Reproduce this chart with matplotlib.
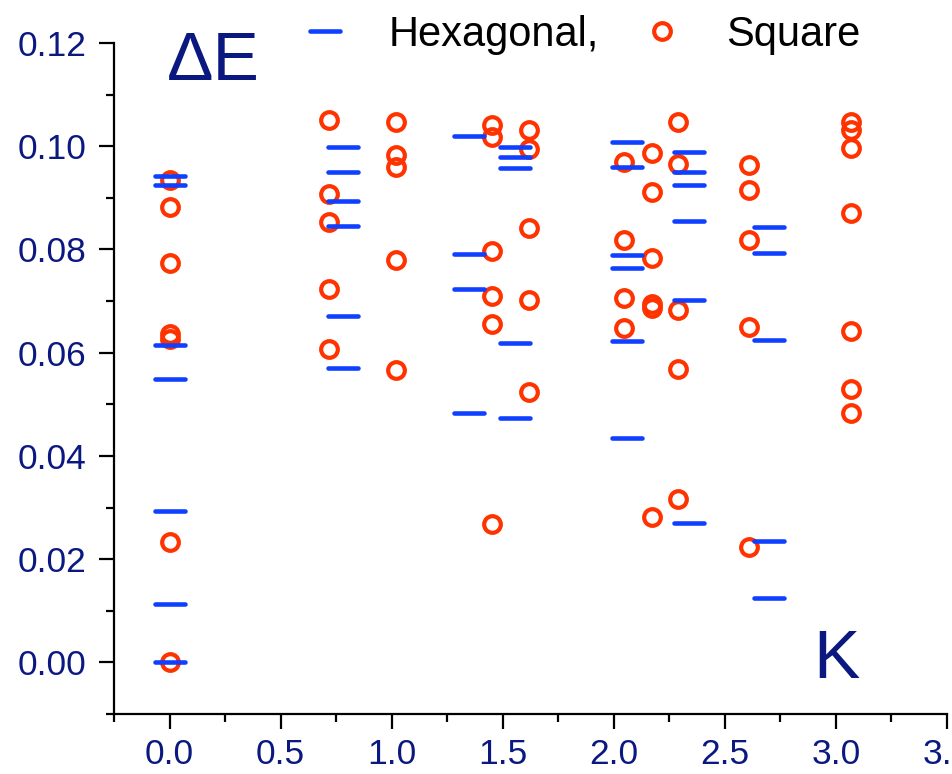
import matplotlib
matplotlib.use("Agg")
import matplotlib.pyplot as plt
from matplotlib.markers import MarkerStyle
from matplotlib.ticker import MultipleLocator, FormatStrFormatter

plt.rcParams['font.family'] = ['Liberation Sans', 'DejaVu Sans']

# Hexagonal levels: K position and energies
hex_k = [0.0, 0.78, 1.35, 1.556, 2.06, 2.337, 2.697]
hex_e = [
    [0.0942, 0.0924, 0.0614, 0.0549, 0.0293, 0.0114, 0.0],
    [0.0999, 0.0950, 0.0893, 0.0845, 0.0671, 0.0570],
    [0.1019, 0.0792, 0.0724, 0.0484],
    [0.0999, 0.0979, 0.0958, 0.0619, 0.0473],
    [0.1008, 0.0960, 0.0789, 0.0765, 0.0622, 0.0435],
    [0.0988, 0.0950, 0.0924, 0.0856, 0.0703, 0.0270],
    [0.0844, 0.0793, 0.0624, 0.0236, 0.0125],
]

# Square levels
sq_k = [0.0, 0.72, 1.02, 1.45, 1.62, 2.047, 2.173, 2.29, 2.61, 3.07]
sq_e = [
    [0.0934, 0.0882, 0.0773, 0.0637, 0.0627, 0.0233, 0.0],
    [0.1050, 0.0908, 0.0853, 0.0724, 0.0608],
    [0.1047, 0.0983, 0.0960, 0.0779, 0.0566],
    [0.1041, 0.1018, 0.0797, 0.0710, 0.0655, 0.0269],
    [0.1032, 0.0994, 0.0842, 0.0702, 0.0524],
    [0.0970, 0.0819, 0.0705, 0.0647],
    [0.0986, 0.0911, 0.0784, 0.0694, 0.0686, 0.0282],
    [0.1047, 0.0966, 0.0682, 0.0569, 0.0317],
    [0.0964, 0.0915, 0.0818, 0.0649, 0.0223],
    [0.1047, 0.1031, 0.0996, 0.0870, 0.0642, 0.0530, 0.0483],
]

x_ticks = [0.0, 0.5, 1.0, 1.5, 2.0, 2.5, 3.0, 3.5]
y_ticks = [0.00, 0.02, 0.04, 0.06, 0.08, 0.10, 0.12]

hex_color = '#1040ff'
sq_color = '#ff3300'
navy = '#0a1880'

fig = plt.figure(figsize=(9.52, 7.74), dpi=100)
ax = fig.add_axes([114/952, 60/774, 833/952, 671/774])

sx, sy = [], []
for k, es in zip(sq_k, sq_e):
    sx += [k] * len(es)
    sy += es
hx, hy = [], []
for k, es in zip(hex_k, hex_e):
    hx += [k] * len(es)
    hy += es

dash = MarkerStyle('_', capstyle='round')
sq_line, = ax.plot(sx, sy, linestyle='none', marker='o', markersize=12,
                   markerfacecolor='none', markeredgecolor=sq_color,
                   markeredgewidth=3.0, label='Square')
hex_line, = ax.plot(hx, hy, linestyle='none', marker=dash, markersize=22,
                    markeredgecolor=hex_color, markeredgewidth=3.3,
                    label='Hexagonal,')

ax.set_xlim(-0.25, 3.5)
ax.set_ylim(-0.01, 0.12)
ax.set_xticks(x_ticks)
ax.set_yticks(y_ticks)
ax.xaxis.set_major_formatter(FormatStrFormatter('%.1f'))
ax.yaxis.set_major_formatter(FormatStrFormatter('%.2f'))
ax.xaxis.set_minor_locator(MultipleLocator(0.25))
ax.yaxis.set_minor_locator(MultipleLocator(0.01))

for s in ['top', 'right']:
    ax.spines[s].set_visible(False)
for s in ['left', 'bottom']:
    ax.spines[s].set_linewidth(1.6)
    ax.spines[s].set_color('black')

ax.tick_params(which='major', direction='out', length=11, width=1.6,
               labelsize=25.5, labelcolor=navy, pad=6)
ax.tick_params(which='minor', direction='out', length=6, width=1.6)
ax.tick_params(axis='y', which='major', pad=9)

fig.text(167/952, 1 - 80/774, '\u0394E', fontsize=50, color=navy,
         ha='left', va='baseline')
fig.text(813/952, 1 - 678/774, 'K', fontsize=50, color=navy,
         ha='left', va='baseline')

leg = fig.legend(handles=[hex_line, sq_line], labels=['Hexagonal,', 'Square'],
                 loc='center left', bbox_to_anchor=(294/952, 1 - 35/774),
                 ncol=2, frameon=False, fontsize=30, borderpad=0,
                 borderaxespad=0, handlelength=1.5, handletextpad=0.77,
                 columnspacing=0.77, numpoints=1)

fig.savefig('out.png', dpi=100)
